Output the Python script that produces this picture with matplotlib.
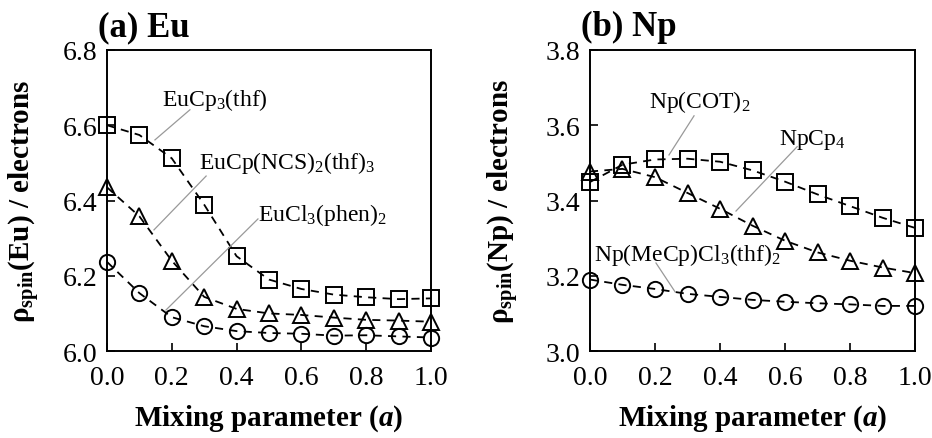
import numpy as np
import matplotlib
matplotlib.use('Agg')
import matplotlib.pyplot as plt

plt.rcParams['font.family'] = ['Liberation Serif', 'DejaVu Serif']
plt.rcParams['mathtext.fontset'] = 'custom'
plt.rcParams['mathtext.rm'] = 'Liberation Serif'
plt.rcParams['mathtext.it'] = 'Liberation Serif:italic'
plt.rcParams['mathtext.bf'] = 'Liberation Serif:bold'
plt.rcParams['mathtext.bfit'] = 'Liberation Serif:italic:bold'

# 混合参数
mix = [0.0, 0.1, 0.2, 0.3, 0.4, 0.5, 0.6, 0.7, 0.8, 0.9, 1.0]

# (a) Eu
eu_cp3_thf = [6.600, 6.574, 6.512, 6.389, 6.252, 6.190, 6.165, 6.150, 6.143, 6.138, 6.140]
eu_cp_ncs = [6.435, 6.358, 6.240, 6.144, 6.112, 6.100, 6.096, 6.089, 6.083, 6.081, 6.078]
eu_cl3_phen = [6.237, 6.154, 6.090, 6.066, 6.053, 6.048, 6.046, 6.041, 6.042, 6.039, 6.036]

# (b) Np
np_cot2 = [3.449, 3.495, 3.509, 3.511, 3.503, 3.480, 3.450, 3.416, 3.385, 3.354, 3.327]
np_cp4 = [3.477, 3.484, 3.462, 3.420, 3.378, 3.333, 3.293, 3.262, 3.240, 3.222, 3.207]
np_mecp = [3.190, 3.176, 3.165, 3.152, 3.144, 3.136, 3.131, 3.127, 3.124, 3.120, 3.120]

fig = plt.figure(figsize=(9.32, 4.39), dpi=100)
ax1 = fig.add_axes([0.1148, 0.198, 0.3476, 0.686])
ax2 = fig.add_axes([0.633, 0.198, 0.349, 0.686])

style = dict(color='black', linestyle=(0, (4.5, 3.5)), linewidth=1.3,
             markersize=11, markeredgewidth=1.4, fillstyle='none', clip_on=False)


def setup(ax, ylim, yticks, title, ylabel, ylab_x):
    ax.set_xlim(0, 1)
    ax.set_ylim(*ylim)
    ax.set_xticks(np.arange(0, 1.01, 0.2))
    ax.set_xticklabels(['%.1f' % v for v in np.arange(0, 1.01, 0.2)])
    ax.set_yticks(yticks)
    ax.set_yticklabels(['%.1f' % v for v in yticks])
    ax.tick_params(direction='in', length=6, width=1.2, labelsize=20, top=False, right=False)
    ax.tick_params(axis='x', pad=10)
    ax.tick_params(axis='y', pad=7)
    for s in ax.spines.values():
        s.set_linewidth(1.4)
    ax.text(-0.028, 1.05, title, transform=ax.transAxes, fontsize=25,
            fontweight='bold', ha='left', va='baseline')
    ax.set_ylabel(ylabel, fontsize=21, fontweight='bold')
    ax.yaxis.set_label_coords(ylab_x, 0.5)
    ax.set_xlabel(r'Mixing parameter ($\mathbfit{a}$)', fontsize=21, fontweight='bold')
    ax.xaxis.set_label_coords(0.5, -0.17)


# (a) Eu
ax1.plot(mix, eu_cp3_thf, marker='s', **style)
ax1.plot(mix, eu_cp_ncs, marker='^', **style)
ax1.plot(mix, eu_cl3_phen, marker='o', **style)
setup(ax1, (6.0, 6.8), [6.0, 6.2, 6.4, 6.6, 6.8], '(a) Eu',
      r'ρ$_{\mathbf{spin}}$(Eu) / electrons', -0.20)

lab = dict(fontsize=17, va='center', ha='left')
ln = dict(color='#999999', linewidth=0.9)
ax1.text(0.17, 6.67, r'EuCp$_3$(thf)', **lab)
ax1.plot([0.148, 0.256], [6.561, 6.641], **ln)
ax1.text(0.284, 6.503, r'EuCp(NCS)$_2$(thf)$_3$', **lab)
ax1.plot([0.145, 0.306], [6.322, 6.465], **ln)
ax1.text(0.466, 6.364, r'EuCl$_3$(phen)$_2$', **lab)
ax1.plot([0.182, 0.466], [6.109, 6.351], **ln)

# (b) Np
ax2.plot(mix, np_cot2, marker='s', **style)
ax2.plot(mix, np_cp4, marker='^', **style)
ax2.plot(mix, np_mecp, marker='o', **style)
setup(ax2, (3.0, 3.8), [3.0, 3.2, 3.4, 3.6, 3.8], '(b) Np',
      r'ρ$_{\mathbf{spin}}$(Np) / electrons', -0.212)

ax2.text(0.182, 3.665, r'Np(COT)$_2$', **lab)
ax2.plot([0.243, 0.32], [3.521, 3.625], **ln)
ax2.text(0.582, 3.564, r'NpCp$_4$', **lab)
ax2.plot([0.449, 0.637], [3.372, 3.543], **ln)
ax2.text(0.012, 3.258, r'Np(MeCp)Cl$_3$(thf)$_2$', **lab)
ax2.plot([0.203, 0.262], [3.234, 3.157], **ln)

fig.savefig('out.png', dpi=100)
